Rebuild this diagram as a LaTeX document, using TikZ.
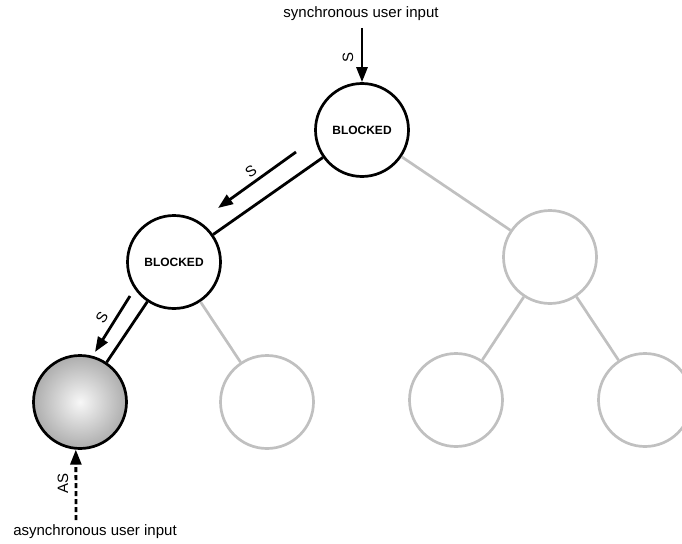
\documentclass[tikz,border=0pt]{standalone}
\usepackage{fontspec}
\setmainfont{Liberation Sans}
\usetikzlibrary{arrows.meta,calc}
\definecolor{lightedge}{RGB}{192,192,192}
\begin{document}
\begin{tikzpicture}[x=1pt,y=-1pt,
  state/.style={circle,draw=black,line width=2.7pt,minimum size=93pt,inner sep=0pt,font=\fontsize{12}{14}\selectfont\bfseries},
  idle/.style={circle,draw=lightedge,line width=2.7pt,minimum size=93pt,inner sep=0pt},
  active/.style={circle,draw=black,line width=2.7pt,minimum size=93pt,inner sep=0pt,shading=radial,inner color=white!97!black,outer color=black!32},
  strong/.style={draw=black,line width=2.8pt},
  weak/.style={draw=lightedge,line width=2.7pt},
  flow/.style={line width=2.8pt,-{Triangle[length=15pt,width=11pt]}},
  lbl/.style={font=\fontsize{15}{18}\selectfont,inner sep=0pt}]
\useasboundingbox (0,0) rectangle (682,543);
\clip (0,0) rectangle (682,543);
% nodes
\node[state] (root) at (362,130) {BLOCKED};
\node[state] (L) at (174,262) {BLOCKED};
\node[idle] (R) at (550,257) {};
\node[active] (BL) at (80,402) {};
\node[idle] (B2) at (267,402) {};
\node[idle] (B3) at (456,400) {};
\node[idle] (B4) at (645,400) {};
% tree edges
\draw[strong] (root) -- (L);
\draw[strong] (L) -- (BL);
\draw[weak] (root) -- (R);
\draw[weak] (L) -- (B2);
\draw[weak] (R) -- (B3);
\draw[weak] (R) -- (B4);
% texts
\node[lbl] (syn) at (361,14) {synchronous user input};
\node[lbl] (asyn) at (95,532) {asynchronous user input};
% synchronous input arrow
\coordinate (topstart) at (362,28);
\draw[flow] (topstart) -- (root);
\node[lbl,rotate=90] (s0) at (348,57) {S};
% first propagation arrow
\coordinate (a1s) at (296,152);
\coordinate (a1e) at (218,208);
\draw[flow] (a1s) -- (a1e);
\node[lbl,rotate=36] (s1) at (251,171) {S};
% second propagation arrow
\coordinate (a2s) at (130,296);
\coordinate (a2e) at (95,352);
\draw[flow] (a2s) -- (a2e);
\node[lbl,rotate=58] (s2) at (102,318) {S};
% asynchronous input arrow
\coordinate (asstart) at (76,520);
\draw[flow,dash pattern=on 5pt off 3pt] (asstart) -- (BL.265);
\node[lbl,rotate=90] (as) at (63,483) {AS};
\end{tikzpicture}
\end{document}
